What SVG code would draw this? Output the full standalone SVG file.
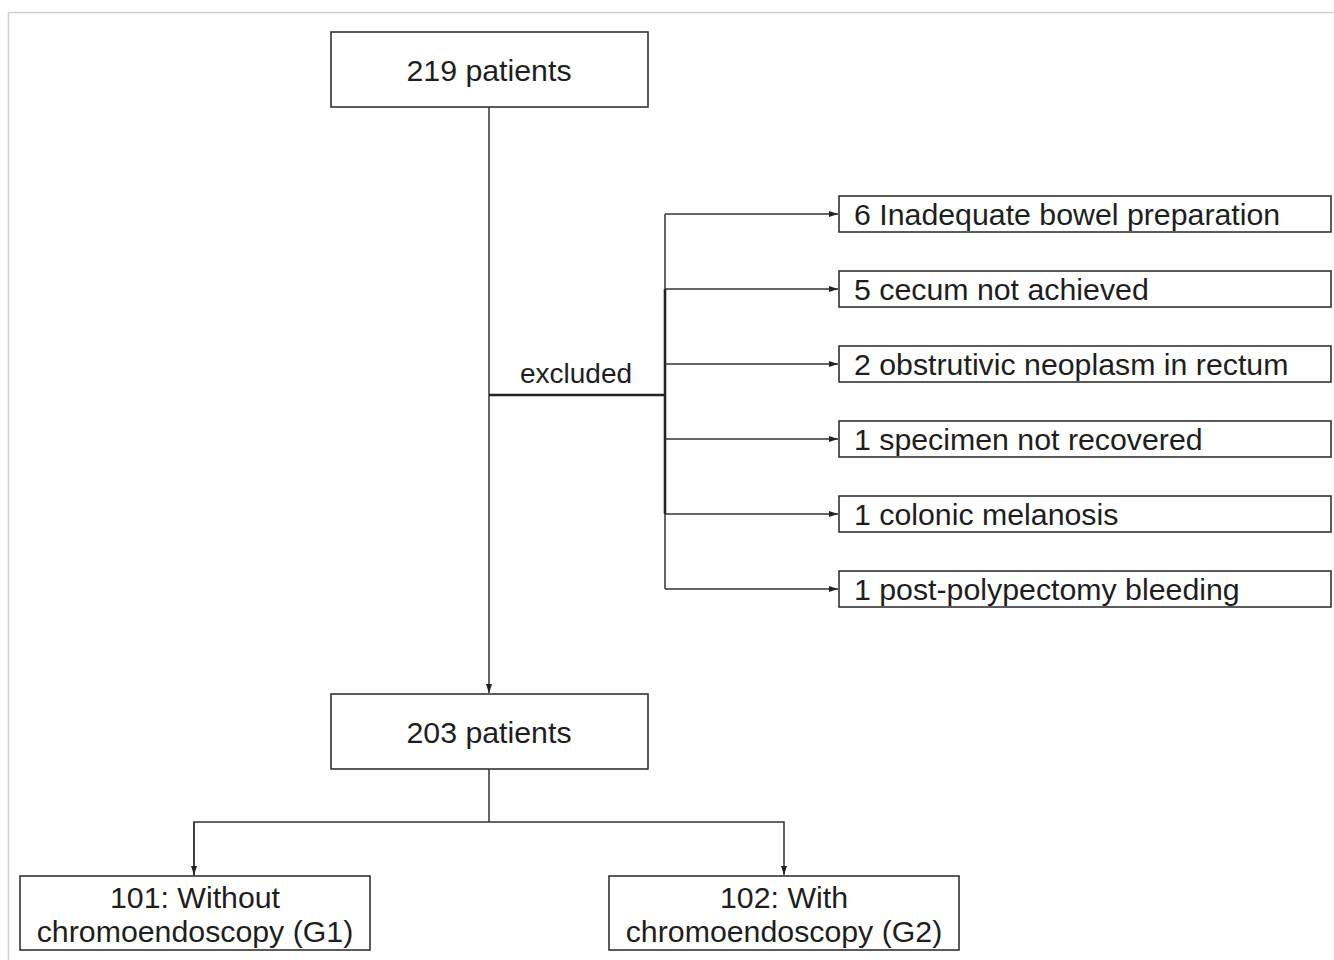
<svg xmlns="http://www.w3.org/2000/svg" width="1334" height="960" viewBox="0 0 1334 960">
<style>
.box{fill:#fff;stroke:#333;stroke-width:1.6}
.ln{fill:none;stroke:#333;stroke-width:1.5}
.thk{fill:none;stroke:#222;stroke-width:2.6}
text{font-family:"Liberation Sans",Arial,sans-serif;font-size:30.3px;fill:#1e1e1e}
.c{text-anchor:middle}
</style>
<defs>
<marker id="ah" markerWidth="9" markerHeight="6" refX="9" refY="3" orient="auto" markerUnits="userSpaceOnUse">
<path d="M0,0 L9,3 L0,6 Z" fill="#222"/>
</marker>
</defs>
<rect width="1334" height="960" fill="#fff"/>
<path d="M8.5,960 V12.5 H1334" fill="none" stroke="#d0d0d0" stroke-width="1.5"/>
<g id="connectors">
<path class="ln" d="M489,107 V693" marker-end="url(#ah)"/>
<path class="thk" d="M489,395 H665"/>
<path class="ln" d="M665,214 V589"/>
<path class="thk" d="M665,289 V514"/>
<path class="ln" d="M665,214 H838" marker-end="url(#ah)"/>
<path class="ln" d="M665,289 H838" marker-end="url(#ah)"/>
<path class="ln" d="M665,364 H838" marker-end="url(#ah)"/>
<path class="ln" d="M665,439 H838" marker-end="url(#ah)"/>
<path class="ln" d="M665,514 H838" marker-end="url(#ah)"/>
<path class="ln" d="M665,589 H838" marker-end="url(#ah)"/>
<path class="ln" d="M489,769 V822"/>
<path class="ln" d="M194,876 V822 H784 V875" marker-end="url(#ah)"/>
<path class="ln" d="M194,822 V875" marker-end="url(#ah)"/>
<text x="576" y="383" class="c" style="font-size:28px">excluded</text>
</g>
<g id="n219"><rect class="box" x="331" y="32" width="317" height="75"/><text x="489" y="81" class="c">219 patients</text></g>
<g id="n203"><rect class="box" x="331" y="694" width="317" height="75"/><text x="489" y="743" class="c">203 patients</text></g>
<g id="e1"><rect class="box" x="839" y="196" width="492" height="36"/><text x="854" y="225">6 Inadequate bowel preparation</text></g>
<g id="e2"><rect class="box" x="839" y="271" width="492" height="36"/><text x="854" y="300">5 cecum not achieved</text></g>
<g id="e3"><rect class="box" x="839" y="346" width="492" height="36"/><text x="854" y="375">2 obstrutivic neoplasm in rectum</text></g>
<g id="e4"><rect class="box" x="839" y="421" width="492" height="36"/><text x="854" y="450">1 specimen not recovered</text></g>
<g id="e5"><rect class="box" x="839" y="496" width="492" height="36"/><text x="854" y="525">1 colonic melanosis</text></g>
<g id="e6"><rect class="box" x="839" y="571" width="492" height="36"/><text x="854" y="600">1 post-polypectomy bleeding</text></g>
<g id="g1"><rect class="box" x="20" y="876" width="350" height="74"/><text x="195" y="908" class="c">101: Without</text><text x="195" y="942" class="c">chromoendoscopy (G1)</text></g>
<g id="g2"><rect class="box" x="609" y="876" width="350" height="74"/><text x="784" y="908" class="c">102: With</text><text x="784" y="942" class="c">chromoendoscopy (G2)</text></g>
</svg>
